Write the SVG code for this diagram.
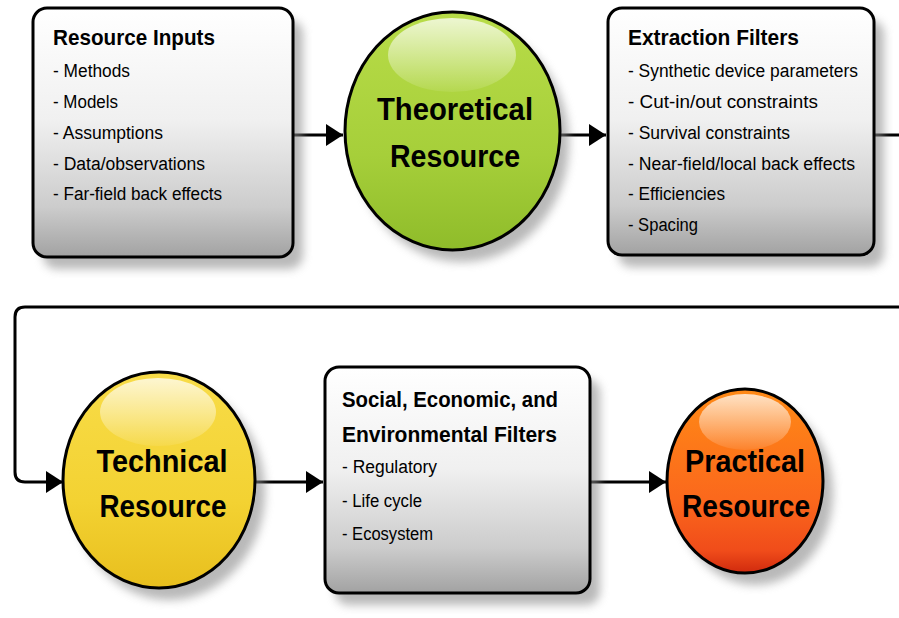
<svg xmlns="http://www.w3.org/2000/svg" width="899" height="618" viewBox="0 0 899 618">
<defs>
<linearGradient id="boxg" x1="0" y1="0" x2="0" y2="1">
<stop offset="0" stop-color="#ffffff"/>
<stop offset="0.45" stop-color="#f0f0f0"/>
<stop offset="0.8" stop-color="#cccccc"/>
<stop offset="1" stop-color="#a2a2a2"/>
</linearGradient>
<linearGradient id="greeng" x1="0" y1="0" x2="0" y2="1">
<stop offset="0" stop-color="#b8dc48"/>
<stop offset="0.6" stop-color="#a6cf3a"/>
<stop offset="1" stop-color="#8fbc2a"/>
</linearGradient>
<linearGradient id="yellowg" x1="0" y1="0" x2="0" y2="1">
<stop offset="0" stop-color="#f8dc48"/>
<stop offset="0.6" stop-color="#f3d232"/>
<stop offset="1" stop-color="#e8bf1e"/>
</linearGradient>
<linearGradient id="orangeg" x1="0" y1="0" x2="0" y2="1">
<stop offset="0" stop-color="#ff8a16"/>
<stop offset="0.6" stop-color="#fb681c"/>
<stop offset="0.88" stop-color="#f04c1a"/>
<stop offset="1" stop-color="#d02a0e"/>
</linearGradient>
<linearGradient id="hl" x1="0" y1="0" x2="0" y2="1">
<stop offset="0" stop-color="#ffffff" stop-opacity="0.75"/>
<stop offset="1" stop-color="#ffffff" stop-opacity="0.08"/>
</linearGradient>
<filter id="sh" x="-20%" y="-20%" width="150%" height="150%">
<feGaussianBlur stdDeviation="5"/>
</filter>
<marker id="ah" viewBox="0 0 17 22" refX="17" refY="11" markerWidth="17" markerHeight="22" markerUnits="userSpaceOnUse" orient="auto">
<path d="M0 0 L17 11 L0 22 Z" fill="#000"/>
</marker>
<style>
.box{fill:url(#boxg);stroke:#000;stroke-width:3}
.shadow{fill:#8a8a8a;opacity:0.6;filter:url(#sh)}
.ring{stroke:#000;stroke-width:3}
.conn{fill:none;stroke:#000;stroke-width:3}
.t{font-family:"Liberation Sans",Arial,sans-serif;font-weight:bold;font-size:22px;fill:#000}
.i{font-family:"Liberation Sans",Arial,sans-serif;font-size:18px;fill:#000}
.c{font-family:"Liberation Sans",Arial,sans-serif;font-weight:bold;font-size:32px;fill:#000;text-anchor:middle}
</style>
</defs>
<rect width="899" height="618" fill="#fff"/>

<g id="connectors">
<path class="conn" d="M293 135 H343" marker-end="url(#ah)"/>
<path class="conn" d="M560 135 H606" marker-end="url(#ah)"/>
<path class="conn" d="M874 135 H899"/>
<path class="conn" d="M899 307 H25 Q15 307 15 317 V472 Q15 482 25 482 H63" marker-end="url(#ah)"/>
<path class="conn" d="M255 482 H323" marker-end="url(#ah)"/>
<path class="conn" d="M590 482 H666" marker-end="url(#ah)"/>
</g>

<g id="resource-inputs">
<rect class="shadow" x="43" y="20" width="260" height="249" rx="14"/>
<rect class="box" x="33" y="8" width="260" height="249" rx="14"/>
<text class="t" x="53" y="45" textLength="162" lengthAdjust="spacingAndGlyphs">Resource Inputs</text>
<text class="i" x="53" y="77" textLength="77" lengthAdjust="spacingAndGlyphs">- Methods</text>
<text class="i" x="53" y="108" textLength="65" lengthAdjust="spacingAndGlyphs">- Models</text>
<text class="i" x="53" y="139" textLength="110" lengthAdjust="spacingAndGlyphs">- Assumptions</text>
<text class="i" x="53" y="170" textLength="152" lengthAdjust="spacingAndGlyphs">- Data/observations</text>
<text class="i" x="53" y="200" textLength="169" lengthAdjust="spacingAndGlyphs">- Far-field back effects</text>
</g>

<g id="theoretical-resource">
<ellipse class="shadow" cx="462" cy="143" rx="107" ry="119"/>
<ellipse class="ring" cx="452.5" cy="131" rx="107.5" ry="119" fill="url(#greeng)"/>
<ellipse cx="452" cy="55" rx="64" ry="37" fill="url(#hl)"/>
<text class="c" x="455" y="120" textLength="156" lengthAdjust="spacingAndGlyphs">Theoretical</text>
<text class="c" x="455" y="167" textLength="130" lengthAdjust="spacingAndGlyphs">Resource</text>
</g>

<g id="extraction-filters">
<rect class="shadow" x="618" y="20" width="266" height="247" rx="14"/>
<rect class="box" x="608" y="8" width="266" height="247" rx="14"/>
<text class="t" x="628" y="45" textLength="171" lengthAdjust="spacingAndGlyphs">Extraction Filters</text>
<text class="i" x="628" y="77" textLength="230" lengthAdjust="spacingAndGlyphs">- Synthetic device parameters</text>
<text class="i" x="628" y="108" textLength="190" lengthAdjust="spacingAndGlyphs">- Cut-in/out constraints</text>
<text class="i" x="628" y="139" textLength="162" lengthAdjust="spacingAndGlyphs">- Survival constraints</text>
<text class="i" x="628" y="170" textLength="227" lengthAdjust="spacingAndGlyphs">- Near-field/local back effects</text>
<text class="i" x="628" y="200" textLength="97" lengthAdjust="spacingAndGlyphs">- Efficiencies</text>
<text class="i" x="628" y="231" textLength="70" lengthAdjust="spacingAndGlyphs">- Spacing</text>
</g>

<g id="technical-resource">
<ellipse class="shadow" cx="169" cy="492" rx="96" ry="108"/>
<ellipse class="ring" cx="159" cy="480" rx="96" ry="108" fill="url(#yellowg)"/>
<ellipse cx="158" cy="412" rx="58" ry="34" fill="url(#hl)"/>
<text class="c" x="162" y="472" textLength="131" lengthAdjust="spacingAndGlyphs">Technical</text>
<text class="c" x="163" y="517" textLength="127" lengthAdjust="spacingAndGlyphs">Resource</text>
</g>

<g id="social-economic-environmental-filters">
<rect class="shadow" x="335" y="379" width="265" height="226" rx="14"/>
<rect class="box" x="325" y="367" width="265" height="226" rx="14"/>
<text class="t" x="342" y="407" textLength="216" lengthAdjust="spacingAndGlyphs">Social, Economic, and</text>
<text class="t" x="342" y="442" textLength="215" lengthAdjust="spacingAndGlyphs">Environmental Filters</text>
<text class="i" x="342" y="473" textLength="95" lengthAdjust="spacingAndGlyphs">- Regulatory</text>
<text class="i" x="342" y="507" textLength="80" lengthAdjust="spacingAndGlyphs">- Life cycle</text>
<text class="i" x="342" y="540" textLength="91" lengthAdjust="spacingAndGlyphs">- Ecosystem</text>
</g>

<g id="practical-resource">
<ellipse class="shadow" cx="755" cy="493" rx="78" ry="92"/>
<ellipse class="ring" cx="745" cy="481" rx="78" ry="92" fill="url(#orangeg)"/>
<ellipse cx="745" cy="422" rx="46" ry="28" fill="url(#hl)"/>
<text class="c" x="745" y="472" textLength="120" lengthAdjust="spacingAndGlyphs">Practical</text>
<text class="c" x="746" y="517" textLength="128" lengthAdjust="spacingAndGlyphs">Resource</text>
</g>
</svg>
